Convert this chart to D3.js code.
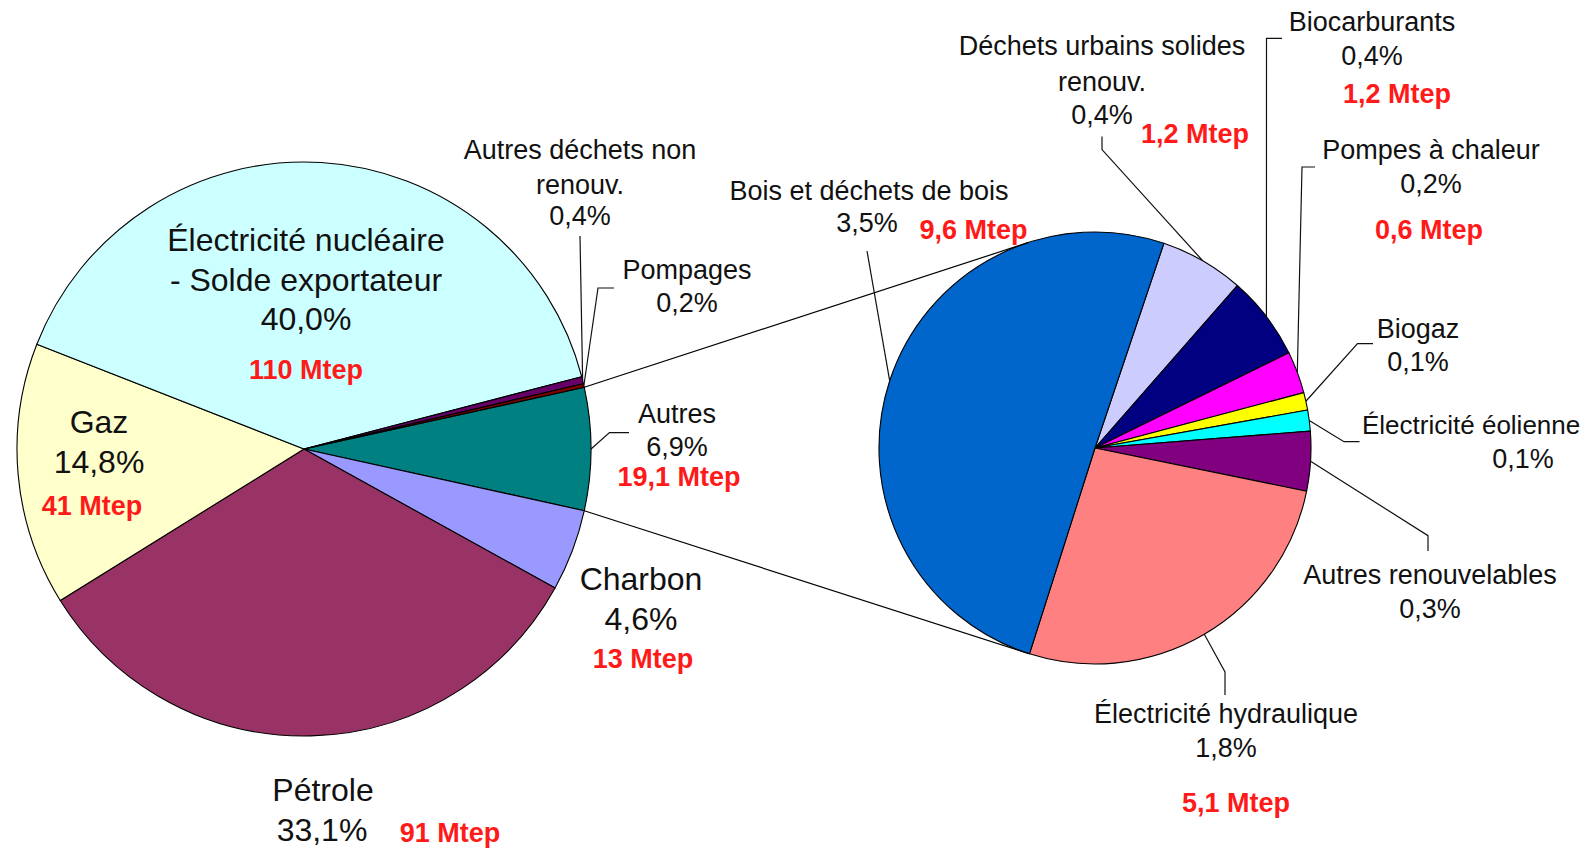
<!DOCTYPE html>
<html>
<head>
<meta charset="utf-8">
<script src="https://cdn.jsdelivr.net/npm/d3@7"></script>
<style>
  html, body { margin: 0; padding: 0; background: #fff; }
  svg { display: block; }
  text { font-family: "Liberation Sans", Arial, sans-serif; fill: #111; }
  .big { font-size: 32px; }
  .small { font-size: 27px; }
  .mtep { font-size: 27px; font-weight: bold; fill: #ff1a1a; }
</style>
</head>
<body>
<svg id="chart" width="1585" height="850"></svg>
<script>
// ---------- DATA ----------
const mainCategories = ["Autres", "Charbon", "Pétrole", "Gaz",
  "Électricité nucléaire\n- Solde exportateur", "Autres déchets non\nrenouv.", "Pompages"];
const mainPercent = [6.9, 4.6, 33.1, 14.8, 40.0, 0.4, 0.2];
const mainMtep = [19.1, 13, 91, 41, 110, null, null];
const mainColors = ["#008080", "#9999FF", "#993366", "#FFFFCC", "#CCFFFF", "#660066", "#800000"];

const subCategories = ["Déchets urbains solides\nrenouv.", "Biocarburants", "Pompes à chaleur", "Biogaz",
  "Électricité éolienne", "Autres renouvelables", "Électricité hydraulique", "Bois et déchets de bois"];
const subPercent = [0.4, 0.4, 0.2, 0.1, 0.1, 0.3, 1.8, 3.5];
const subSize = [1.2, 1.2, 0.6, 0.25, 0.3, 0.85, 5.1, 9.6];      // estimated slice sizes (Mtep)
const subMtepShown = [1.2, 1.2, 0.6, null, null, null, 5.1, 9.6];
const subColors = ["#CCCCFF", "#000080", "#FF00FF", "#FFFF00", "#00FFFF", "#800080", "#FF8080", "#0066CC"];

// ---------- LAYOUT ----------
const W = 1585, H = 850;
const L = { cx: 304, cy: 449, r: 287 };
const R = { cx: 1095, cy: 448, r: 216 };
const deg = Math.PI / 180;

// label layout: name x, line y's, pct position, mtep position, leader elbow points
const mainLayout = [
  { cls: "small", x: 677, ys: [413.4], pct: [677, 445.8], mt: [679, 476], leader: [[609.5, 432.6], [629, 432.6]] },
  { cls: "big", x: 641, ys: [578], pct: [641, 618.6], mt: [643, 658] },
  { cls: "big", x: 323, ys: [789.4], pct: [322, 829], mt: [450, 832.5] },
  { cls: "big", x: 99, ys: [421.5], pct: [99, 461], mt: [92, 505.4] },
  { cls: "big", x: 306, ys: [239.6, 279], pct: [306, 318.4], mt: [306, 369] },
  { cls: "small", x: 580, ys: [149.6, 184], pct: [580, 215.3], leader: [[580, 236]] },
  { cls: "small", x: 687, ys: [269], pct: [687, 302], leader: [[598, 288], [614, 288]] }
];
const subLayout = [
  { x: 1102, ys: [45.5, 81], pct: [1102, 114], mt: [1195, 133.4], leader: [[1102, 149.6], [1102, 136.5]] },
  { x: 1372, ys: [21.2], pct: [1372, 55.6], mt: [1397, 93], leader: [[1266.5, 38.4], [1282, 38.4]] },
  { x: 1431, ys: [149.6], pct: [1431, 183], mt: [1429, 229.5], leader: [[1302, 167], [1315, 167]] },
  { x: 1418, ys: [328.5], pct: [1418, 361], leader: [[1357.5, 343.7], [1373, 343.7]] },
  { x: 1362, anchor: "start", fs: 26, ys: [424.5], pct: [1523, 458], leader: [[1344, 441.7], [1359.5, 441.7]] },
  { x: 1430, ys: [574], pct: [1430, 608.5], leader: [[1428, 535.7], [1428, 551]] },
  { x: 1226, ys: [713.6], pct: [1226, 747], mt: [1236, 802.6], leader: [[1225, 672], [1225, 695]] },
  { x: 869, ys: [190], pct: [867, 222.4], mt: [973.4, 229.5], leader: [[867, 251]] }
];

const fmtPct = v => d3.format(".1f")(v).replace(".", ",") + "%";
const fmtMtep = v => (Number.isInteger(v) ? String(v) : d3.format(".1f")(v).replace(".", ",")) + " Mtep";

const svg = d3.select("#chart");
svg.append("rect").attr("width", W).attr("height", H).attr("fill", "#fff");
const root = svg.append("g");

// ---------- PIES ----------
const autresHalf = mainPercent[0] / d3.sum(mainPercent) * Math.PI;
const mainStart = Math.PI / 2 - autresHalf;
const mainPie = d3.pie().sort(null).value(d => d).startAngle(mainStart).endAngle(mainStart + 2 * Math.PI);
const mainArcs = mainPie(mainPercent);

const subStart = 18.6 * deg;
const subPie = d3.pie().sort(null).value(d => d).startAngle(subStart).endAngle(subStart + 2 * Math.PI);
const subArcs = subPie(subSize);

const arcL = d3.arc().innerRadius(0).outerRadius(L.r);
const arcR = d3.arc().innerRadius(0).outerRadius(R.r);

const gL = root.append("g").attr("transform", `translate(${L.cx},${L.cy})`);
gL.selectAll("path").data(mainArcs).join("path")
  .attr("d", arcL).attr("fill", (d, i) => mainColors[i])
  .attr("stroke", "#000").attr("stroke-width", 1.1).attr("stroke-linejoin", "round");

const gR = root.append("g").attr("transform", `translate(${R.cx},${R.cy})`);
gR.selectAll("path").data(subArcs).join("path")
  .attr("d", arcR).attr("fill", (d, i) => subColors[i])
  .attr("stroke", "#000").attr("stroke-width", 1.1).attr("stroke-linejoin", "round");

// ---------- CONNECTOR LINES ----------
const ptOn = (c, a) => [c.cx + c.r * Math.sin(a), c.cy - c.r * Math.cos(a)];
const pUp = ptOn(L, mainArcs[0].startAngle);
const pDown = ptOn(L, mainArcs[0].endAngle);
function tangent(P, sign) {
  const dx = P[0] - R.cx, dy = P[1] - R.cy;
  const d = Math.hypot(dx, dy);
  const phi = Math.atan2(dy, dx);
  const a = phi + sign * Math.acos(R.r / d);
  return [R.cx + R.r * Math.cos(a), R.cy + R.r * Math.sin(a)];
}
const line = d3.line();
root.append("path").attr("d", line([pUp, tangent(pUp, +1)]))
  .attr("stroke", "#000").attr("stroke-width", 1.2).attr("fill", "none");
root.append("path").attr("d", line([pDown, tangent(pDown, -1)]))
  .attr("stroke", "#000").attr("stroke-width", 1.2).attr("fill", "none");

// ---------- LABELS ----------
function drawLabels(arcs, circle, cats, pcts, mteps, layout, defaultCls) {
  arcs.forEach((a, i) => {
    const lay = layout[i];
    const cls = lay.cls || defaultCls;
    const fs = lay.fs || (cls === "big" ? 32 : 27);
    const anchor = lay.anchor || "middle";
    if (lay.leader) {
      const mid = (a.startAngle + a.endAngle) / 2;
      const pts = [ptOn(circle, mid)].concat(lay.leader);
      root.append("path").attr("d", line(pts))
        .attr("fill", "none").attr("stroke", "#111").attr("stroke-width", 1.2);
    }
    cats[i].split("\n").forEach((t, k) => {
      root.append("text").attr("class", cls).attr("text-anchor", anchor)
        .style("font-size", fs + "px")
        .attr("x", lay.x).attr("y", lay.ys[k] + fs * 0.36).text(t);
    });
    root.append("text").attr("class", cls).attr("text-anchor", "middle")
      .attr("x", lay.pct[0]).attr("y", lay.pct[1] + (cls === "big" ? 32 : 27) * 0.36).text(fmtPct(pcts[i]));
    if (mteps[i] != null && lay.mt) {
      root.append("text").attr("class", "mtep").attr("text-anchor", "middle")
        .attr("x", lay.mt[0]).attr("y", lay.mt[1] + 27 * 0.36).text(fmtMtep(mteps[i]));
    }
  });
}
drawLabels(mainArcs, L, mainCategories, mainPercent, mainMtep, mainLayout, "big");
drawLabels(subArcs, R, subCategories, subPercent, subMtepShown, subLayout, "small");
</script>
</body>
</html>
